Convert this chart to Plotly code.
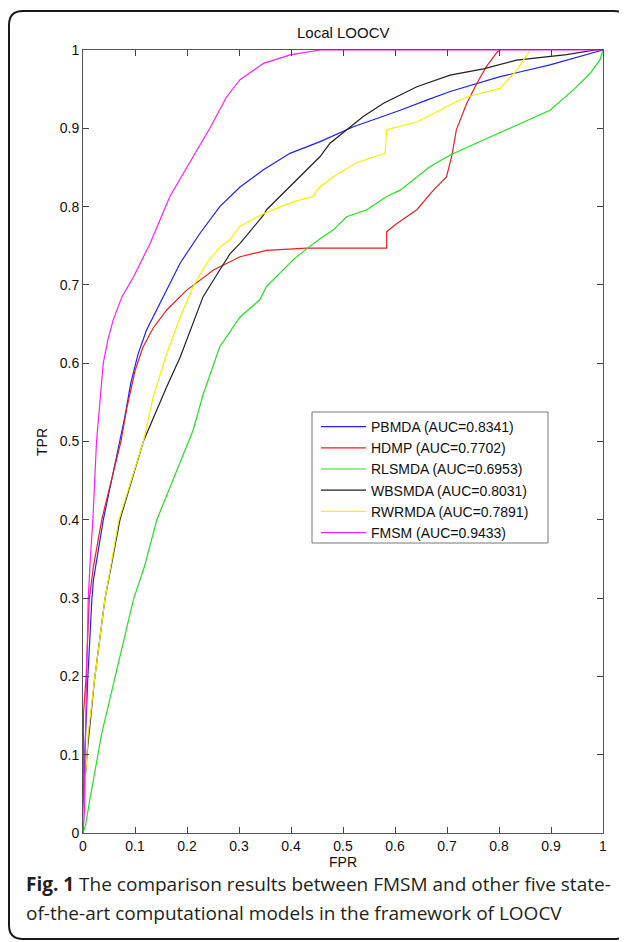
import plotly.graph_objects as go

# ---------------- data ----------------
series_names = ["PBMDA (AUC=0.8341)", "HDMP (AUC=0.7702)", "RLSMDA (AUC=0.6953)",
                "WBSMDA (AUC=0.8031)", "RWRMDA (AUC=0.7891)", "FMSM (AUC=0.9433)"]

pbmda_fpr = [0, 0.001, 0.002, 0.004, 0.009, 0.017, 0.020, 0.039, 0.071, 0.080, 0.092, 0.106, 0.122,
             0.154, 0.187, 0.225, 0.263, 0.302, 0.347, 0.398, 0.456, 0.520, 0.610, 0.661, 0.706,
             0.802, 0.898, 1.0]
pbmda_tpr = [0, 0.05, 0.068, 0.110, 0.195, 0.298, 0.323, 0.400, 0.500, 0.530, 0.575, 0.612, 0.642,
             0.685, 0.728, 0.766, 0.800, 0.825, 0.847, 0.868, 0.883, 0.902, 0.923, 0.936, 0.947,
             0.966, 0.981, 1.0]

hdmp_fpr = [0, 0, 0.001, 0.006, 0.012, 0.020, 0.036, 0.073, 0.085, 0.100, 0.115, 0.135, 0.161, 0.199,
            0.251, 0.302, 0.353, 0.430, 0.584, 0.584, 0.603, 0.642, 0.674, 0.699, 0.709, 0.718,
            0.738, 0.757, 0.776, 0.796, 0.802]
hdmp_tpr = [0, 0.15, 0.153, 0.200, 0.298, 0.340, 0.400, 0.500, 0.545, 0.590, 0.620, 0.645, 0.668,
            0.693, 0.719, 0.736, 0.744, 0.747, 0.747, 0.768, 0.778, 0.796, 0.821, 0.838, 0.864,
            0.898, 0.932, 0.957, 0.979, 0.997, 1.0]

rlsmda_fpr = [0, 0.005, 0.013, 0.036, 0.062, 0.097, 0.118, 0.142, 0.203, 0.212, 0.231, 0.263, 0.302,
              0.340, 0.353, 0.404, 0.430, 0.456, 0.481, 0.507, 0.546, 0.584, 0.610, 0.667, 0.706,
              0.770, 0.834, 0.898, 0.943, 0.975, 0.994, 1.0]
rlsmda_tpr = [0, 0.01, 0.042, 0.127, 0.200, 0.298, 0.340, 0.400, 0.500, 0.515, 0.560, 0.621, 0.659,
              0.681, 0.698, 0.732, 0.746, 0.759, 0.770, 0.787, 0.796, 0.813, 0.821, 0.851, 0.866,
              0.885, 0.904, 0.923, 0.949, 0.970, 0.987, 1.0]

wbsmda_fpr = [0, 0.002, 0.004, 0.009, 0.022, 0.042, 0.049, 0.071, 0.116, 0.161, 0.187, 0.206,
              0.231, 0.263, 0.283, 0.302, 0.347, 0.353, 0.404, 0.411, 0.456, 0.475, 0.539, 0.578,
              0.642, 0.706, 0.770, 0.834, 0.930, 0.985, 1.0]
wbsmda_tpr = [0, 0.04, 0.068, 0.110, 0.195, 0.298, 0.323, 0.400, 0.500, 0.570, 0.608, 0.642,
              0.685, 0.719, 0.740, 0.753, 0.789, 0.796, 0.830, 0.834, 0.864, 0.881, 0.915, 0.932,
              0.953, 0.968, 0.976, 0.987, 0.994, 1.0, 1.0]

rwrmda_fpr = [0, 0.003, 0.010, 0.023, 0.042, 0.069, 0.116, 0.135, 0.161, 0.187, 0.212, 0.238, 0.263,
              0.283, 0.302, 0.347, 0.404, 0.443, 0.449, 0.456, 0.481, 0.526, 0.581, 0.584, 0.594,
              0.629, 0.642, 0.674, 0.687, 0.706, 0.738, 0.802, 0.834, 0.860]
rwrmda_tpr = [0, 0.05, 0.127, 0.200, 0.298, 0.400, 0.500, 0.557, 0.612, 0.659, 0.698, 0.728, 0.748,
              0.758, 0.775, 0.791, 0.806, 0.813, 0.820, 0.825, 0.838, 0.856, 0.868, 0.898, 0.900,
              0.906, 0.908, 0.919, 0.923, 0.930, 0.940, 0.951, 0.974, 1.0]

fmsm_fpr = [0, 0.003, 0.004, 0.007, 0.010, 0.014, 0.019, 0.026, 0.033, 0.039, 0.048, 0.058, 0.075,
            0.097, 0.129, 0.167, 0.212, 0.244, 0.276, 0.302, 0.347, 0.400, 0.456, 1.0]
fmsm_tpr = [0, 0.03, 0.10, 0.195, 0.298, 0.35, 0.40, 0.50, 0.553, 0.600, 0.630, 0.655, 0.685,
            0.710, 0.753, 0.813, 0.864, 0.900, 0.940, 0.962, 0.983, 0.994, 1.0, 1.0]

tick_vals = [0, 0.1, 0.2, 0.3, 0.4, 0.5, 0.6, 0.7, 0.8, 0.9, 1]
tick_text = ["0", "0.1", "0.2", "0.3", "0.4", "0.5", "0.6", "0.7", "0.8", "0.9", "1"]

chart_title = "Local LOOCV"
x_title = "FPR"
y_title = "TPR"
caption_1 = "<b>Fig. 1</b> The comparison results between FMSM and other five state-"
caption_2 = "of-the-art computational models in the framework of LOOCV"

# ---------------- styling ----------------
colors = ["#1f1fff", "#e82020", "#22e022", "#222222", "#f2f200", "#ff1cff"]
W, H = 627, 942
OFF = 8                          # page body margin of the html page
L, R, T, B = 83, 603, 50, 833    # plot area, in screenshot pixels


def fx(px):
    return (px - L) / (R - L)


def fy(py):
    return (B - py) / (B - T)


fig = go.Figure()
xs = [pbmda_fpr, hdmp_fpr, rlsmda_fpr, wbsmda_fpr, rwrmda_fpr, fmsm_fpr]
ys = [pbmda_tpr, hdmp_tpr, rlsmda_tpr, wbsmda_tpr, rwrmda_tpr, fmsm_tpr]
for name, x, y, c in zip(series_names, xs, ys, colors):
    fig.add_trace(go.Scatter(x=x, y=y, mode="lines", name=name,
                             line=dict(color=c, width=1.2)))

axis_common = dict(range=[0, 1], tickvals=tick_vals, ticktext=tick_text,
                   ticks="inside", ticklen=6, tickcolor="#444", tickwidth=1,
                   showline=True, linecolor="#555", linewidth=1, mirror="ticks",
                   showgrid=False, zeroline=False,
                   tickfont=dict(family="Liberation Sans", size=14, color="#111"))
fig.update_xaxes(**axis_common)
fig.update_yaxes(**axis_common)

# rounded frame around the whole figure
x0, x1, y0, y1, r = 9, 628, 11, 939, 14
path = (f"M {fx(x0 + r)},{fy(y0)} L {fx(x1 - r)},{fy(y0)} Q {fx(x1)},{fy(y0)} {fx(x1)},{fy(y0 + r)} "
        f"L {fx(x1)},{fy(y1 - r)} Q {fx(x1)},{fy(y1)} {fx(x1 - r)},{fy(y1)} "
        f"L {fx(x0 + r)},{fy(y1)} Q {fx(x0)},{fy(y1)} {fx(x0)},{fy(y1 - r)} "
        f"L {fx(x0)},{fy(y0 + r)} Q {fx(x0)},{fy(y0)} {fx(x0 + r)},{fy(y0)} Z")
fig.add_shape(type="path", path=path, xref="paper", yref="paper",
              line=dict(color="#1a1a1a", width=2), layer="below")

# legend box (opaque, grey border)
fig.add_shape(type="rect", xref="paper", yref="paper",
              x0=fx(312), x1=fx(548), y0=fy(412), y1=fy(543),
              line=dict(color="#777", width=1), fillcolor="white", layer="above")

font_chart = "Liberation Sans"
fig.add_annotation(text=chart_title, xref="paper", yref="paper", x=0.5, y=fy(33),
                   showarrow=False, xanchor="center", yanchor="middle",
                   font=dict(family=font_chart, size=15, color="#111"))
fig.add_annotation(text=x_title, xref="paper", yref="paper", x=0.5, y=fy(862),
                   showarrow=False, xanchor="center", yanchor="middle",
                   font=dict(family=font_chart, size=14, color="#111"))
fig.add_annotation(text=y_title, xref="paper", yref="paper", x=fx(42), y=fy(442),
                   showarrow=False, xanchor="center", yanchor="middle", textangle=-90,
                   font=dict(family=font_chart, size=14, color="#111"))
fig.add_annotation(text=caption_1, xref="paper", yref="paper", x=fx(24), y=fy(884),
                   showarrow=False, xanchor="left", yanchor="middle",
                   font=dict(family="Open Sans", size=19, color="#231f20"))
fig.add_annotation(text=caption_2, xref="paper", yref="paper", x=fx(24), y=fy(913),
                   showarrow=False, xanchor="left", yanchor="middle",
                   font=dict(family="Open Sans", size=19, color="#231f20"))

fig.update_layout(
    width=W, height=H,
    margin=dict(l=L - OFF, r=W - (R - OFF), t=T - OFF, b=H - (B - OFF)),
    paper_bgcolor="white", plot_bgcolor="white",
    showlegend=True,
    legend=dict(x=fx(316), y=fy(411), xanchor="left", yanchor="top",
                bgcolor="rgba(0,0,0,0)", borderwidth=0,
                font=dict(family=font_chart, size=14, color="#111"),
                tracegroupgap=0, itemwidth=45),
)

fig.write_html("out.html")
